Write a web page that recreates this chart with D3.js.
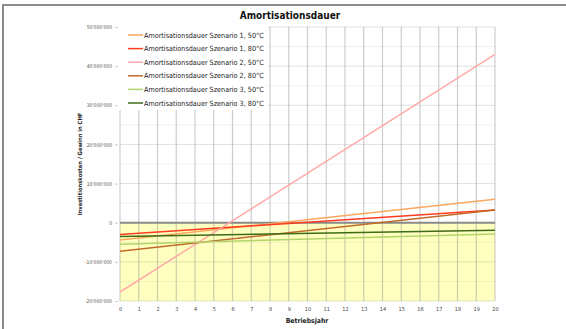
<!DOCTYPE html>
<html><head><meta charset="utf-8">
<script src="https://cdn.jsdelivr.net/npm/d3@7"></script>
<style>body{margin:0;background:#fff}svg{display:block}</style>
</head><body><svg id="c" width="566" height="329"></svg>
<script>
const years = [0, 20];
const seriesNames = [
  "Amortisationsdauer Szenario 1, 50°C",
  "Amortisationsdauer Szenario 1, 80°C",
  "Amortisationsdauer Szenario 2, 50°C",
  "Amortisationsdauer Szenario 2, 80°C",
  "Amortisationsdauer Szenario 3, 50°C",
  "Amortisationsdauer Szenario 3, 80°C"
];
const s1_50 = [-4400000, 6000000];
const s1_80 = [-3000000, 3250000];
const s2_50 = [-17700000, 43000000];
const s2_80 = [-7300000, 3250000];
const s3_50 = [-5500000, -2900000];
const s3_80 = [-3500000, -1950000];
const seriesValues = [s1_50, s1_80, s2_50, s2_80, s3_50, s3_80];
const seriesColors = ["#f9a85e", "#ff3b1f", "#ffaaa8", "#c06b2a", "#b3d46a", "#3d6b16"];
const xTicks = d3.range(0, 21);
const yTicks = [50000000, 40000000, 30000000, 20000000, 10000000, 0, -10000000, -20000000];
const yMinor = [45000000, 35000000, 25000000, 15000000, 5000000, -5000000, -15000000];

const svg = d3.select("#c");
const x = d3.scaleLinear().domain([0, 20]).range([120, 495]);
const y = d3.scaleLinear().domain([-20000000, 50000000]).range([301, 27]);
const fmt = v => {
  const s = Math.abs(v).toString().replace(/\B(?=(\d{3})+(?!\d))/g, "'");
  return (v < 0 ? "-" : "") + s;
};
const font = "'DejaVu Sans Condensed', 'Liberation Sans Narrow', sans-serif";

// frame
svg.append("line").attr("x1", 3).attr("x2", 566).attr("y1", 5).attr("y2", 5).attr("stroke", "#8c8c8c").attr("stroke-width", 2);
svg.append("line").attr("x1", 3).attr("x2", 3).attr("y1", 4).attr("y2", 329).attr("stroke", "#8c8c8c").attr("stroke-width", 2);

// yellow area
svg.append("rect").attr("x", x(0)).attr("y", y(0)).attr("width", x(20) - x(0)).attr("height", y(-20000000) - y(0)).attr("fill", "#ffffc0");

// grid
const g = svg.append("g");
g.selectAll(".hm").data(yMinor).join("line")
  .attr("x1", x(0)).attr("x2", x(20)).attr("y1", d => y(d)).attr("y2", d => y(d))
  .attr("stroke", "#888").attr("stroke-opacity", 0.12).attr("stroke-width", 1);
g.selectAll(".hM").data(yTicks).join("line")
  .attr("x1", x(0)).attr("x2", x(20)).attr("y1", d => y(d)).attr("y2", d => y(d))
  .attr("stroke", "#888").attr("stroke-opacity", 0.25).attr("stroke-width", 1);
g.selectAll(".v").data(xTicks).join("line")
  .attr("x1", d => x(d)).attr("x2", d => x(d)).attr("y1", y(50000000)).attr("y2", y(-20000000))
  .attr("stroke", "#888").attr("stroke-opacity", 0.42).attr("stroke-width", 1.2);

// axes
const yAxis = d3.axisLeft(y).tickValues(yTicks).tickFormat(fmt).tickSize(3).tickPadding(3);
const ya = svg.append("g").attr("transform", `translate(${x(0) - 2},0)`).call(yAxis);
ya.select(".domain").remove();
ya.selectAll("line").attr("stroke", "#ccc");
ya.selectAll("text").attr("font-family", font).attr("font-size", 5).attr("fill", "#555");

const xAxis = d3.axisBottom(x).tickValues(xTicks).tickFormat(d => d).tickSize(0).tickPadding(6);
const xa = svg.append("g").attr("transform", `translate(0,${y(-20000000)})`).call(xAxis);
xa.select(".domain").remove();
xa.selectAll("text").attr("font-family", font).attr("font-size", 5.5).attr("fill", "#444");

// zero line
svg.append("line").attr("x1", x(0)).attr("x2", x(20)).attr("y1", y(0)).attr("y2", y(0)).attr("stroke", "#8a8a8a").attr("stroke-width", 2);

// series
const line = d3.line().x((d, i) => x(years[i])).y(d => y(d));
seriesValues.forEach((vals, i) => {
  svg.append("path").datum(vals).attr("d", line).attr("fill", "none")
    .attr("stroke", seriesColors[i]).attr("stroke-width", 1.5);
});

// legend
svg.append("rect").attr("x", 118).attr("y", 24).attr("width", 150).attr("height", 86).attr("fill", "#fff");
const lg = svg.append("g");
seriesNames.forEach((n, i) => {
  const yy = 35 + i * 13.6;
  lg.append("line").attr("x1", 128).attr("x2", 143).attr("y1", yy).attr("y2", yy).attr("stroke", seriesColors[i]).attr("stroke-width", 1.5);
  lg.append("text").attr("x", 144).attr("y", yy + 2.5).text(n)
    .attr("font-family", font).attr("font-size", 7.2).attr("fill", "#222");
});

// titles
svg.append("text").attr("x", 290).attr("y", 19).attr("text-anchor", "middle").text("Amortisationsdauer")
  .attr("font-family", font).attr("font-weight", "bold").attr("font-size", 10).attr("fill", "#111");
svg.append("text").attr("transform", "translate(82,164) rotate(-90)").attr("text-anchor", "middle")
  .text("Investitionskosten / Gewinn in CHF")
  .attr("font-family", font).attr("font-weight", "bold").attr("font-size", 5.8).attr("fill", "#222");
svg.append("text").attr("x", 307).attr("y", 323).attr("text-anchor", "middle").text("Betriebsjahr")
  .attr("font-family", font).attr("font-weight", "bold").attr("font-size", 6.8).attr("fill", "#222");
</script></body></html>
